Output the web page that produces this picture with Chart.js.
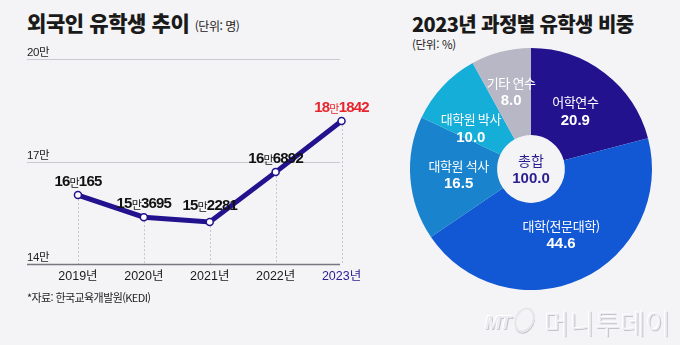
<!DOCTYPE html>
<html lang="ko">
<head>
<meta charset="utf-8">
<script src="https://cdn.jsdelivr.net/npm/chart.js@4"></script>
<style>
  html, body { margin: 0; padding: 0; }
  body { width: 680px; height: 345px; background: #f4f4f6; position: relative; overflow: hidden;
         font-family: "Noto Sans CJK KR", "Liberation Sans", sans-serif; color: #1a1a1a; }
  .title { position: absolute; font-weight: 900; white-space: nowrap; line-height: 1; }
  .unit { font-size: 12px; font-weight: 400; letter-spacing: -0.5px; }
  #lineWrap { position: absolute; left: 0; top: 0; width: 380px; height: 345px; }
  #pieWrap { position: absolute; left: 380px; top: 0; width: 300px; height: 345px; }
  .source { position: absolute; left: 27px; top: 289px; font-size: 11px; letter-spacing: -0.6px; color: #222; }
  .mark { position: absolute; left: 485px; top: 303px; white-space: nowrap; color: #ececf0;
          text-shadow: -1px -1px 0 #fff, 1px 1px 0 #c4c4cc; }
  .mark .mt { font: italic 700 19px "Liberation Sans", sans-serif; vertical-align: 5px; letter-spacing: -1px; }
  .mark .ring { display: inline-block; width: 15px; height: 22px; border: 2px solid #e6e6ea; border-radius: 50%;
                transform: rotate(25deg); box-shadow: 1px 1px 0 #c4c4cc; margin: 0 10px 0 5px; vertical-align: 1px; }
  .mark .name { font-size: 27px; font-weight: 300; letter-spacing: 0.5px; }
</style>
</head>
<body>

<div class="title" style="left:27px; top:12px; font-size:21px; letter-spacing:-0.4px;">외국인 유학생 추이 <span class="unit">(단위: 명)</span></div>
<div class="title" style="left:412px; top:14px; font-size:20px; letter-spacing:-0.6px;">2023년 과정별 유학생 비중</div>
<div class="title" style="left:412px; top:39px; font-size:11.5px; font-weight:400; letter-spacing:-0.3px;">(단위: %)</div>

<div id="lineWrap"><canvas id="lineChart"></canvas></div>
<div id="pieWrap"><canvas id="pieChart"></canvas></div>

<div class="source">*자료: 한국교육개발원(KEDI)</div>
<div class="mark"><span class="mt">MT</span><span class="ring"></span><span class="name">머니투데이</span></div>

<script>
// ===== DATA =====
const years = ['2019년', '2020년', '2021년', '2022년', '2023년'];
const students = [160165, 153695, 152281, 166892, 181842];
const yTicks = [140000, 170000, 200000];
const yTickLabels = ['14만', '17만', '20만'];

const courses = ['어학연수', '대학(전문대학)', '대학원 석사', '대학원 박사', '기타 연수'];
const shares = [20.9, 44.6, 16.5, 10.0, 8.0];
const totalLabel = '총합';
const totalShare = 100.0;

// ===== COLOURS =====
const INDIGO = '#22128e';
const RED = '#e8242c';
const courseColors = ['#22128e', '#1257d3', '#1983cd', '#14aed8', '#b7b7c5'];

const NUM_FONT = '"Liberation Sans", "Noto Sans CJK KR", sans-serif';
const KR_FONT = '"Noto Sans CJK KR", "Liberation Sans", sans-serif';

// "16만165" -> bold digits with a small regular 만
function splitMan(v) {
  const man = Math.floor(v / 10000);
  const rest = v % 10000;
  return [String(man), '만', String(rest)];
}

// ===== LINE CHART: grid, dotted drops and value labels =====
const lineDecor = {
  id: 'lineDecor',
  beforeDatasetsDraw(chart) {
    const { ctx } = chart;
    const y = chart.scales.y;
    const meta = chart.getDatasetMeta(0);
    ctx.save();

    // dotted drops from each point to the base line
    const base = y.getPixelForValue(yTicks[0]);
    ctx.strokeStyle = '#c6c6cc';
    ctx.lineWidth = 1;
    ctx.setLineDash([2, 2]);
    meta.data.forEach(pt => {
      ctx.beginPath();
      ctx.moveTo(Math.round(pt.x) + 0.5, pt.y + 4);
      ctx.lineTo(Math.round(pt.x) + 0.5, base);
      ctx.stroke();
    });
    ctx.setLineDash([]);

    // horizontal lines + labels sitting on them
    yTicks.forEach((t, i) => {
      const py = Math.round(y.getPixelForValue(t)) + 0.5;
      ctx.strokeStyle = i === 0 ? '#77777f' : '#c9c9d1';
      ctx.lineWidth = i === 0 ? 1.3 : 1;
      ctx.beginPath();
      ctx.moveTo(27, py);
      ctx.lineTo(340, py);
      ctx.stroke();

      ctx.fillStyle = '#222';
      ctx.font = '11.5px ' + NUM_FONT;
      ctx.letterSpacing = '-0.4px';
      ctx.textAlign = 'left';
      ctx.textBaseline = 'middle';
      ctx.fillText(yTickLabels[i], 27, py - 7);
    });
    ctx.restore();
  },
  afterDatasetsDraw(chart) {
    const { ctx } = chart;
    const meta = chart.getDatasetMeta(0);
    ctx.save();
    ctx.textBaseline = 'middle';
    meta.data.forEach((pt, i) => {
      const parts = splitMan(students[i]);
      const fonts = ['bold 15px ' + NUM_FONT, '11px ' + KR_FONT, 'bold 15px ' + NUM_FONT];
      ctx.letterSpacing = '-0.8px';
      const widths = parts.map((p, k) => { ctx.font = fonts[k]; return ctx.measureText(p).width; });
      const total = widths.reduce((a, b) => a + b, 0);
      const lift = i === 2 ? 16 : 13;
      let x = pt.x - total / 2;
      const yy = pt.y - lift;
      ctx.fillStyle = i === students.length - 1 ? RED : '#111';
      ctx.textAlign = 'left';
      parts.forEach((p, k) => {
        ctx.font = fonts[k];
        ctx.fillText(p, x, yy + (k === 1 ? 0.5 : 0));
        x += widths[k];
      });
    });
    ctx.restore();
  }
};

new Chart(document.getElementById('lineChart'), {
  type: 'line',
  data: {
    labels: years,
    datasets: [{
      data: students,
      borderColor: INDIGO,
      borderWidth: 5,
      tension: 0,
      pointRadius: 3.5,
      pointBorderWidth: 1.5,
      pointBackgroundColor: '#fff',
      pointBorderColor: INDIGO,
      clip: false
    }]
  },
  options: {
    responsive: true,
    maintainAspectRatio: false,
    animation: false,
    layout: { padding: { left: 45, right: 4, top: 59, bottom: 56 } },
    plugins: { legend: { display: false }, tooltip: { enabled: false } },
    scales: {
      x: {
        offset: true,
        grid: { display: false, drawTicks: false, tickLength: 0 },
        border: { display: false },
        ticks: {
          padding: 5,
          font: { size: 12.5, family: NUM_FONT },
          color: ctx => ctx.index === years.length - 1 ? '#2a1d93' : '#1a1a1a'
        }
      },
      y: { display: false, min: yTicks[0], max: yTicks[yTicks.length - 1] }
    }
  },
  plugins: [lineDecor]
});

// ===== DOUGHNUT: slice labels and centre total =====
// small angle / radius tweaks so the labels sit clear of the slice edges
const labelTurn = [0, 0, 0, -0.16, 0];
const labelDepth = [0.6, 0.6, 0.6, 0.6, 0.66];

const pieLabels = {
  id: 'pieLabels',
  afterDatasetsDraw(chart) {
    const { ctx } = chart;
    const meta = chart.getDatasetMeta(0);
    ctx.save();
    ctx.textAlign = 'center';
    ctx.textBaseline = 'middle';
    meta.data.forEach((arc, i) => {
      const { x, y, startAngle, endAngle, outerRadius } = arc.getProps(['x', 'y', 'startAngle', 'endAngle', 'outerRadius'], true);
      const mid = (startAngle + endAngle) / 2 + labelTurn[i];
      const r = outerRadius * labelDepth[i];
      const cx = x + Math.cos(mid) * r;
      const cy = y + Math.sin(mid) * r;
      ctx.fillStyle = '#fff';
      ctx.font = '13px ' + KR_FONT;
      ctx.letterSpacing = '-0.4px';
      ctx.fillText(courses[i], cx, cy - 9);
      ctx.font = 'bold 15px ' + NUM_FONT;
      ctx.letterSpacing = '0px';
      ctx.fillText(shares[i].toFixed(1), cx, cy + 9);
    });

    // centre
    const a = meta.data[0];
    ctx.fillStyle = '#2a1d8f';
    ctx.font = '14px ' + KR_FONT;
    ctx.fillText(totalLabel, a.x, a.y - 8);
    ctx.font = 'bold 15px ' + NUM_FONT;
    ctx.fillText(totalShare.toFixed(1), a.x, a.y + 10);
    ctx.restore();
  }
};

new Chart(document.getElementById('pieChart'), {
  type: 'doughnut',
  data: {
    labels: courses,
    datasets: [{
      data: shares,
      backgroundColor: courseColors,
      borderWidth: 0
    }]
  },
  options: {
    responsive: true,
    maintainAspectRatio: false,
    animation: false,
    cutout: '28%',
    layout: { padding: { left: 30, right: 28, top: 48, bottom: 55 } },
    plugins: { legend: { display: false }, tooltip: { enabled: false } }
  },
  plugins: [pieLabels]
});
</script>
</body>
</html>
